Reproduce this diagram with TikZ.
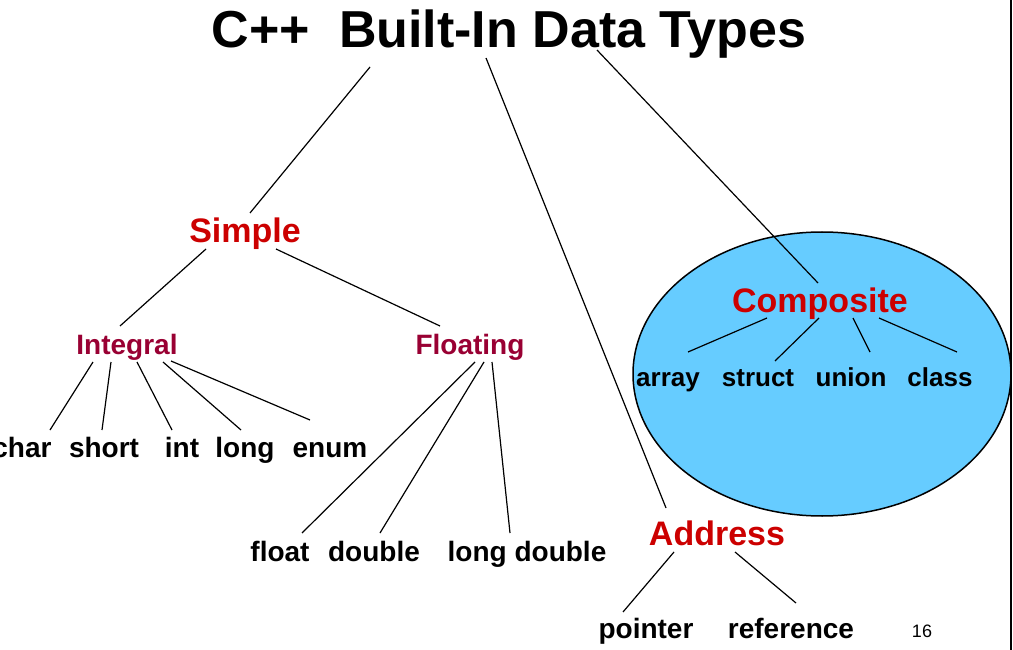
\documentclass[tikz,border=0pt]{standalone}
\usepackage{fontspec}
\setmainfont{Liberation Sans}
\usetikzlibrary{calc}
\definecolor{redA}{HTML}{CC0000}
\definecolor{redB}{HTML}{990033}
\definecolor{blueF}{HTML}{66CCFF}
\begin{document}
\begin{tikzpicture}[x=1pt,y=-1pt,
  base/.style={inner sep=0pt, anchor=base},
  leaf/.style={base, font=\fontsize{28}{30}\selectfont\bfseries, text=black},
  cleaf/.style={base, font=\fontsize{26}{28}\selectfont\bfseries, text=black},
  cat/.style={base, font=\fontsize{34}{36}\selectfont\bfseries, text=redA},
  sub/.style={base, font=\fontsize{28}{30}\selectfont\bfseries, text=redB},
  conn/.style={line width=1.2pt, draw=black}]
\useasboundingbox (0,0) rectangle (1013,650);
\fill[white] (0,0) rectangle (1013,650);
% composite ellipse
\draw[fill=blueF, line width=1.5pt] (822,374) ellipse [x radius=189, y radius=142];
% right border
\draw[line width=2pt] (1011,0) -- (1011,650);
% nodes
\node[base, font=\fontsize{52}{60}\selectfont\bfseries] (title) at (509,48) {C++\ \ Built-In Data Types};
\node[cat] (simple) at (245,242) {Simple};
\node[cat] (composite) at (820,312) {Composite};
\node[cat] (address) at (717,545) {Address};
\node[sub] (integral) at (127,354) {Integral};
\node[sub] (floating) at (470,354) {Floating};
\node[leaf] (char) at (22,457) {char};
\node[leaf] (short) at (104,457) {short};
\node[leaf] (int) at (182,457) {int};
\node[leaf] (long) at (245,457) {long};
\node[leaf] (enum) at (330,457) {enum};
\node[leaf] (float) at (280,561) {float};
\node[leaf] (double) at (374,561) {double};
\node[leaf] (ldouble) at (527,561) {long double};
\node[cleaf] (array) at (668,386) {array};
\node[cleaf] (struct) at (758,386) {struct};
\node[cleaf] (union) at (851,386) {union};
\node[cleaf] (class) at (940,386) {class};
\node[leaf] (pointer) at (646,638) {pointer};
\node[leaf] (reference) at (791,638) {reference};
\node[base, font=\fontsize{18}{20}\selectfont] (page) at (922,637) {16};
% connectors
\draw[conn] ($(title.base)+(-139,19)$) -- ($(simple.base)+(5,-29)$);
\draw[conn] ($(title.base)+(-23,10)$) -- ($(address.base)+(-51,-37)$);
\draw[conn] ($(title.base)+(88,2)$) -- ($(composite.base)+(-2,-29)$);
\draw[conn] ($(simple.base)+(-39,7)$) -- ($(integral.base)+(-7,-28)$);
\draw[conn] ($(simple.base)+(31,7)$) -- ($(floating.base)+(-30,-28)$);
\draw[conn] ($(integral.base)+(-34,8)$) -- ($(char.base)+(28,-27)$);
\draw[conn] ($(integral.base)+(-16,8)$) -- ($(short.base)+(-2,-27)$);
\draw[conn] ($(integral.base)+(10,8)$) -- ($(int.base)+(-10,-27)$);
\draw[conn] ($(integral.base)+(36,8)$) -- ($(long.base)+(-4,-27)$);
\draw[conn] ($(integral.base)+(44,7)$) -- ($(enum.base)+(-20,-37)$);
\draw[conn] ($(floating.base)+(5,8)$) -- ($(float.base)+(22,-28)$);
\draw[conn] ($(floating.base)+(14,8)$) -- ($(double.base)+(6,-28)$);
\draw[conn] ($(floating.base)+(22,8)$) -- ($(ldouble.base)+(-17,-28)$);
\draw[conn] ($(composite.base)+(-53,6)$) -- ($(array.base)+(20,-34)$);
\draw[conn] ($(composite.base)+(-1,6)$) -- ($(struct.base)+(17,-25)$);
\draw[conn] ($(composite.base)+(33,6)$) -- ($(union.base)+(19,-34)$);
\draw[conn] ($(composite.base)+(59,6)$) -- ($(class.base)+(17,-34)$);
\draw[conn] ($(address.base)+(-43,7)$) -- ($(pointer.base)+(-23,-26)$);
\draw[conn] ($(address.base)+(18,7)$) -- ($(reference.base)+(5,-35)$);
\end{tikzpicture}
\end{document}
